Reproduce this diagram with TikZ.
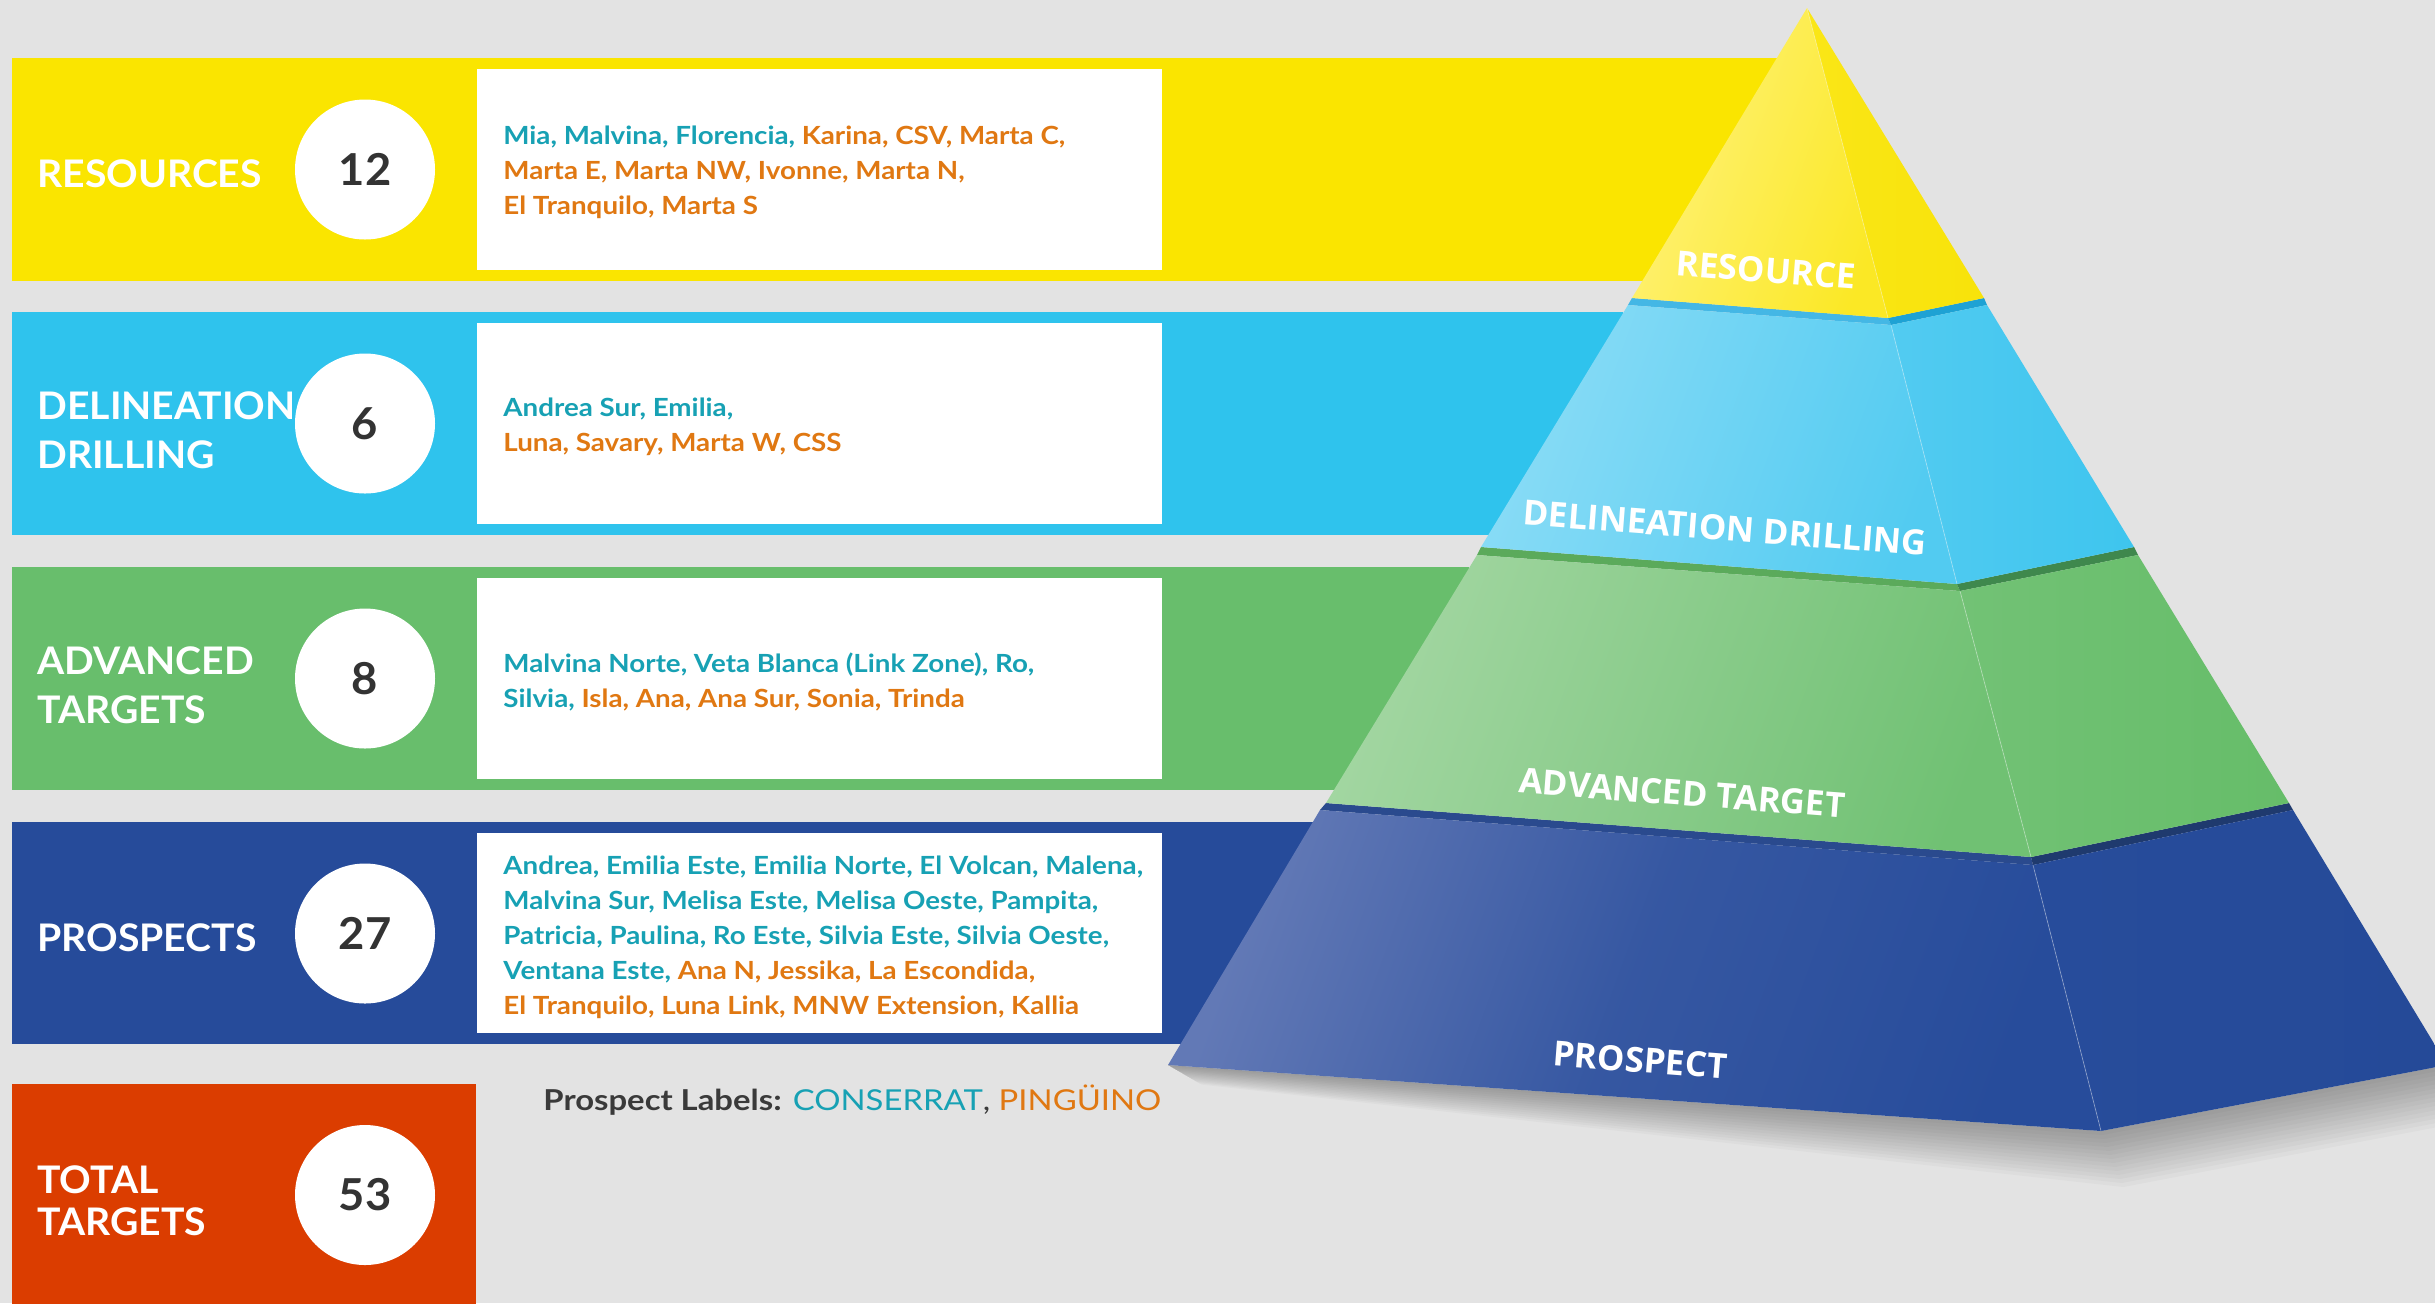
\documentclass[tikz,border=0pt]{standalone}
\usepackage{fontspec}
\setmainfont{Lato}
\newfontfamily\namefont{Lato}[FakeStretch=1.11]
\newfontfamily\labfont{Lato}[FakeStretch=1.03]
\newfontfamily\plabfont{Lato}[FakeStretch=1.14]
\newfontfamily\pyrfont{Open Sans}
\usetikzlibrary{calc}
\definecolor{bg}{HTML}{E3E3E3}
\definecolor{ybandc}{HTML}{FAE500}
\definecolor{cbandc}{HTML}{2FC3ED}
\definecolor{gbandc}{HTML}{68BE6C}
\definecolor{bbandc}{HTML}{264B9A}
\definecolor{rbandc}{HTML}{DB3D00}
\definecolor{numc}{HTML}{333333}
\definecolor{tealc}{HTML}{17A1B4}
\definecolor{orangec}{HTML}{E07812}
\definecolor{darkc}{HTML}{3A3A3A}
% pyramid faces
\definecolor{yL1}{HTML}{FFF27C}\definecolor{yL2}{HTML}{FBE825}
\definecolor{yR1}{HTML}{FAE617}\definecolor{yR2}{HTML}{F8E30A}
\definecolor{cL1}{HTML}{8ADCF6}\definecolor{cL2}{HTML}{52CBF1}
\definecolor{cR1}{HTML}{52CBF1}\definecolor{cR2}{HTML}{3EC5EE}
\definecolor{gL1}{HTML}{A2D6A1}\definecolor{gL2}{HTML}{70C173}
\definecolor{gR1}{HTML}{72C275}\definecolor{gR2}{HTML}{66BD69}
\definecolor{bL1}{HTML}{6279B6}\definecolor{bL2}{HTML}{274C9B}
\definecolor{bR1}{HTML}{274C9B}\definecolor{bR2}{HTML}{254A98}
\definecolor{cSL}{HTML}{44B7E5}\definecolor{cSR}{HTML}{1EA2D4}
\definecolor{gSL}{HTML}{5BAA5B}\definecolor{gSR}{HTML}{3F884D}
\definecolor{bSL}{HTML}{2A4A8E}\definecolor{bSR}{HTML}{1F3A6E}
\begin{document}
\begin{tikzpicture}[x=0.5pt,y=-0.5pt,
  countc/.style={circle, fill=white, minimum size=70pt, inner sep=0pt,
    font=\labfont\fontsize{22}{26}\selectfont\bfseries, text=numc},
  bandlabel/.style={align=left, text=white, inner sep=0pt,
    font=\labfont\fontsize{19}{24.5}\selectfont\bfseries},
  names/.style={anchor=west, align=left, inner sep=0pt,
    font=\namefont\fontsize{12.5}{17.5}\selectfont\bfseries, text=tealc},
  pyrlabel/.style={text=white, inner sep=0pt, rotate=-4.4,
    font=\pyrfont\fontsize{17.3}{20}\selectfont\bfseries},
  ridge/.style={draw=white, draw opacity=0.35, line width=0.4pt},
]
\useasboundingbox (0,0) rectangle (2435,1303);
\fill[bg] (0,0) rectangle (2435,1303);
\clip (0,0) rectangle (2435,1303);

% ---------- bands ----------
\fill[ybandc] (12,58) rectangle (1777,281);
\fill[cbandc] (12,312) rectangle (1623,535);
\fill[gbandc] (12,567) rectangle (1469,790);
\fill[bbandc] (12,822) rectangle (1314,1044);
\fill[rbandc] (12,1084) rectangle (476,1310);

% ---------- white name boxes ----------
\fill[white] (477,69) rectangle (1162,270);
\fill[white] (477,323) rectangle (1162,524);
\fill[white] (477,578) rectangle (1162,779);
\fill[white] (477,833) rectangle (1162,1033);

% ---------- band labels ----------
\node[bandlabel, anchor=base west] (lres) at (37,187) {RESOURCES};
\node[bandlabel, anchor=west] (ldel) at (37,430) {DELINEATION\\DRILLING};
\node[bandlabel, anchor=west] (ladv) at (37,685) {ADVANCED\\TARGETS};
\node[bandlabel, anchor=base west] (lpro) at (37,951) {PROSPECTS};
\node[bandlabel, anchor=west, font=\labfont\fontsize{19}{21}\selectfont\bfseries] (ltot) at (37,1201) {TOTAL\\TARGETS};

% ---------- count circles ----------
\node[countc] (nres) at (365,169.5) {12};
\node[countc] (ndel) at (365,423.5) {6};
\node[countc] (nadv) at (365,678.5) {8};
\node[countc] (npro) at (365,933.5) {27};
\node[countc] (ntot) at (365,1195) {53};

% ---------- names ----------
\node[names] (tres) at (503,172) {Mia, Malvina, Florencia, \textcolor{orangec}{Karina, CSV, Marta C,}\\
\textcolor{orangec}{Marta E, Marta NW, Ivonne, Marta N,}\\
\textcolor{orangec}{El Tranquilo, Marta S}};
\node[names] (tdel) at (503,427) {Andrea Sur, Emilia,\\
\textcolor{orangec}{Luna, Savary, Marta W, CSS}};
\node[names] (tadv) at (503,682) {Malvina Norte, Veta Blanca (Link Zone), Ro,\\
Silvia, \textcolor{orangec}{Isla, Ana, Ana Sur, Sonia, Trinda}};
\node[names] (tpro) at (503,937) {Andrea, Emilia Este, Emilia Norte, El Volcan, Malena,\\
Malvina Sur, Melisa Este, Melisa Oeste, Pampita,\\
Patricia, Paulina, Ro Este, Silvia Este, Silvia Oeste,\\
Ventana Este, \textcolor{orangec}{Ana N, Jessika, La Escondida,}\\
\textcolor{orangec}{El Tranquilo, Luna Link, MNW Extension, Kallia}};

\node[anchor=base west, inner sep=0pt, font=\plabfont\fontsize{14.4}{17}\selectfont, text=darkc] (plab) at (543,1110)
  {\textbf{Prospect Labels:} \textcolor{tealc}{CONSERRAT}, \textcolor{orangec}{PINGÜINO}};

% ---------- pyramid coordinates ----------
\coordinate (A)  at (1807,8);
\coordinate (y1L) at (1632,298); \coordinate (y1F) at (1888,318); \coordinate (y1R) at (1984,298);
\coordinate (c0L) at (1628,305); \coordinate (c0F) at (1891,325); \coordinate (c0R) at (1987,305);
\coordinate (c1L) at (1481,547); \coordinate (c1F) at (1957,584); \coordinate (c1R) at (2134,547);
\coordinate (g0L) at (1477,555); \coordinate (g0F) at (1960,591); \coordinate (g0R) at (2138,555);
\coordinate (g1L) at (1326,803); \coordinate (g1F) at (2031,857); \coordinate (g1R) at (2289,803);
\coordinate (b0L) at (1320,810); \coordinate (b0F) at (2033,865); \coordinate (b0R) at (2293,810);
\coordinate (b1L) at (1168,1065); \coordinate (b1F) at (2101,1131); \coordinate (b1R) at (2447,1065);

% ---------- shadow ----------
\foreach \d in {4,8,...,56}{
  \fill[black, opacity=0.022] (b1L) -- (b1F) -- (b1R)
    -- ($(b1R)+(0.4*\d,\d)$) -- ($(b1F)+(0.4*\d,\d)$) -- ($(b1L)+(0.6*\d,0.35*\d)$) -- cycle;
}

% ---------- strips (top faces) ----------
\fill[cSL] (y1L) -- (y1F) -- (c0F) -- (c0L) -- cycle;
\fill[cSR] (y1F) -- (y1R) -- (c0R) -- (c0F) -- cycle;
\fill[gSL] (c1L) -- (c1F) -- (g0F) -- (g0L) -- cycle;
\fill[gSR] (c1F) -- (c1R) -- (g0R) -- (g0F) -- cycle;
\fill[bSL] (g1L) -- (g1F) -- (b0F) -- (b0L) -- cycle;
\fill[bSR] (g1F) -- (g1R) -- (b0R) -- (b0F) -- cycle;

% ---------- slabs ----------
\shade[left color=yL1, right color=yL2, shading angle=70] (A) -- (y1L) -- (y1F) -- cycle;
\shade[left color=yR1, right color=yR2] (A) -- (y1F) -- (y1R) -- cycle;
\shade[left color=cL1, right color=cL2, shading angle=70] (c0L) -- (c1L) -- (c1F) -- (c0F) -- cycle;
\shade[left color=cR1, right color=cR2] (c0F) -- (c1F) -- (c1R) -- (c0R) -- cycle;
\shade[left color=gL1, right color=gL2, shading angle=70] (g0L) -- (g1L) -- (g1F) -- (g0F) -- cycle;
\shade[left color=gR1, right color=gR2] (g0F) -- (g1F) -- (g1R) -- (g0R) -- cycle;
\shade[left color=bL1, right color=bL2, middle color=bL2!75!bL1, shading angle=70] (b0L) -- (b1L) -- (b1F) -- (b0F) -- cycle;
\shade[left color=bR1, right color=bR2] (b0F) -- (b1F) -- (b1R) -- (b0R) -- cycle;

\draw[ridge] (A) -- (y1F);
\draw[ridge] (c0F) -- (c1F);
\draw[ridge] (g0F) -- (g1F);
\draw[ridge] (b0F) -- (b1F);

% ---------- pyramid labels ----------
\node[pyrlabel] (pres) at (1766,270) {RESOURCE};
\node[pyrlabel] (pdel) at (1725,528) {DELINEATION DRILLING};
\node[pyrlabel] (padv) at (1682,793) {ADVANCED TARGET};
\node[pyrlabel] (ppro) at (1640,1060) {PROSPECT};
\end{tikzpicture}
\end{document}
